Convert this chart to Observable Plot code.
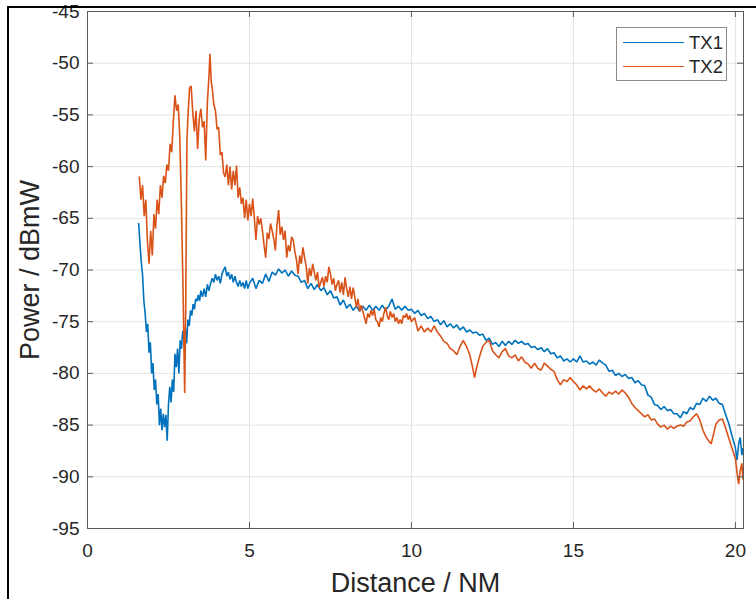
<!DOCTYPE html>
<html>
<head>
<meta charset="utf-8">
<script src="https://cdn.jsdelivr.net/npm/d3@7"></script>
<script src="https://cdn.jsdelivr.net/npm/@observablehq/plot@0.6"></script>
<style>
  html, body { margin: 0; padding: 0; background: #fff; }
  #wrap { position: relative; width: 756px; height: 599px; overflow: hidden; font-family: "Liberation Sans", Arial, sans-serif; }
  #frameTL { position: absolute; left: 7px; top: 6px; width: 760px; height: 600px; border-top: 2px solid #000; border-left: 2px solid #000; pointer-events: none; }
  #legend { position: absolute; left: 616px; top: 27px; width: 111px; height: 54px; background: #fff; border: 1px solid #8a8a8a; box-sizing: border-box; }
  .lg { position: absolute; left: 0; height: 20px; width: 111px; }
  .lg .sw { position: absolute; left: 6px; top: 9px; width: 61px; height: 0; border-top: 1.5px solid; }
  .lg .tx { position: absolute; left: 72px; top: 0; font-size: 18.5px; line-height: 20px; color: #262626; }
</style>
</head>
<body>
<div id="wrap">
  <div id="chart"></div>
  <div id="legend"></div>
  <div id="frameTL"></div>
</div>
<script>
// ---- data ----
const seriesNames = ["TX1", "TX2"];
const seriesColors = ["#0072BD", "#D95319"];

const tx1Distance = [1.58,1.62,1.66,1.70,1.74,1.78,1.82,1.86,1.90,1.94,1.98,2.02,2.06,2.10,2.14,2.18,2.22,2.26,2.30,2.34,2.38,2.42,2.46,2.50,2.54,2.58,2.62,2.66,2.70,2.74,2.78,2.82,2.86,2.90,2.94,2.98,3.02,3.06,3.10,3.14,3.18,3.22,3.26,3.30,3.34,3.38,3.42,3.46,3.50,3.55,3.60,3.65,3.70,3.75,3.80,3.85,3.90,3.95,4.00,4.05,4.10,4.15,4.20,4.25,4.30,4.35,4.40,4.45,4.50,4.55,4.60,4.65,4.70,4.75,4.80,4.85,4.90,4.95,
5.0,5.1,5.2,5.3,5.4,5.5,5.6,5.7,5.8,5.9,6.0,6.1,6.2,6.3,6.4,6.5,6.6,6.7,6.8,6.9,7.0,7.1,7.2,7.3,7.4,7.5,7.6,7.7,7.8,7.9,8.0,8.1,8.2,8.3,8.4,8.5,8.6,8.7,8.8,8.9,9.0,9.1,9.2,9.3,9.4,9.5,9.6,9.7,9.8,9.9,10.0,10.1,10.2,10.3,10.4,10.5,10.6,10.7,10.8,10.9,11.0,11.1,11.2,11.3,11.4,11.5,11.6,11.7,11.8,11.9,12.0,12.1,12.2,12.3,12.4,12.5,12.6,12.7,12.8,12.9,13.0,13.1,13.2,13.3,13.4,13.5,13.6,13.7,13.8,13.9,14.0,14.1,14.2,14.3,14.4,14.5,14.6,14.7,14.8,14.9,15.0,15.1,15.2,15.3,15.4,15.5,15.6,15.7,15.8,15.9,16.0,16.1,16.2,16.3,16.4,16.5,16.6,16.7,16.8,16.9,17.0,17.1,17.2,17.3,17.4,17.5,17.6,17.7,17.8,17.9,18.0,18.1,18.2,18.3,18.4,18.5,18.6,18.7,18.8,18.9,19.0,19.1,19.2,19.3,19.4,19.5,19.6,19.7,19.8,19.9,20.0,20.05,20.1,20.15,20.2,20.23];
const tx1Power = [-65.5,-67.5,-69.2,-70.5,-73.0,-74.2,-76.0,-75.2,-78.0,-77.0,-80.0,-79.0,-81.6,-80.6,-83.0,-82.0,-85.0,-83.4,-85.5,-83.9,-85.2,-84.0,-86.5,-83.0,-81.3,-82.8,-80.6,-81.8,-78.1,-79.4,-77.6,-80.0,-76.8,-77.6,-75.9,-76.6,-75.6,-77.1,-74.8,-75.4,-73.9,-74.4,-73.3,-73.8,-72.8,-73.0,-72.4,-73.0,-72.0,-72.6,-71.8,-72.6,-71.4,-72.0,-71.3,-70.8,-71.2,-70.4,-71.0,-70.6,-71.3,-70.4,-70.0,-69.7,-70.6,-70.2,-70.9,-70.4,-71.2,-70.6,-71.2,-71.6,-71.0,-71.6,-71.2,-71.8,-71.0,-71.8,
-71.3,-70.8,-71.8,-71.0,-71.3,-70.4,-71.1,-70.2,-70.5,-69.9,-70.3,-70.0,-70.6,-70.1,-70.5,-70.6,-71.2,-71.0,-71.8,-71.3,-71.9,-71.4,-72.0,-71.7,-72.4,-72.0,-72.7,-72.6,-73.4,-72.9,-73.7,-73.3,-73.9,-73.5,-74.0,-73.5,-73.9,-73.4,-73.9,-73.5,-73.9,-73.4,-73.9,-73.5,-72.8,-73.8,-73.5,-73.9,-73.5,-73.9,-73.8,-74.2,-73.9,-74.4,-74.2,-74.7,-74.5,-75.0,-74.8,-75.3,-74.9,-75.5,-75.2,-75.6,-75.3,-75.8,-75.5,-76.0,-75.8,-76.1,-76.0,-76.3,-76.2,-76.8,-76.6,-77.2,-77.0,-77.4,-76.9,-77.3,-76.9,-77.2,-76.8,-77.1,-76.9,-77.2,-77.1,-77.5,-77.4,-77.7,-77.5,-77.9,-77.6,-78.1,-78.0,-78.5,-78.3,-78.8,-78.6,-78.9,-78.6,-78.9,-78.3,-78.9,-78.8,-79.1,-78.9,-79.2,-78.7,-79.0,-79.2,-79.8,-79.7,-80.2,-80.0,-80.3,-80.1,-80.5,-80.4,-80.9,-80.7,-81.1,-81.2,-82.1,-82.3,-83.0,-83.1,-83.5,-83.2,-83.6,-83.5,-83.9,-83.9,-84.3,-83.7,-83.9,-83.3,-83.5,-82.9,-83.0,-82.4,-82.7,-82.2,-82.6,-82.4,-82.9,-83.0,-84.0,-84.9,-86.1,-87.2,-88.4,-86.8,-86.2,-87.9,-87.3];

const tx2Distance = [1.60,1.65,1.70,1.75,1.80,1.85,1.90,1.95,2.00,2.05,2.10,2.15,2.20,2.25,2.30,2.35,2.40,2.45,2.50,2.55,2.60,2.65,2.70,2.75,2.80,2.85,2.90,2.95,3.00,3.03,3.07,3.10,3.15,3.20,3.25,3.30,3.35,3.40,3.45,3.50,3.55,3.60,3.65,3.70,3.75,3.78,3.82,3.85,3.90,3.95,4.00,4.05,4.10,4.15,4.20,4.25,4.30,4.35,4.40,4.45,4.50,4.55,4.60,4.65,4.70,4.75,4.80,4.85,4.90,4.95,5.00,5.05,5.10,5.15,5.20,5.25,5.30,5.35,5.40,5.45,5.50,5.55,5.60,5.65,5.70,5.75,5.80,5.85,5.90,5.95,6.00,6.05,6.10,6.15,6.20,6.25,6.30,6.35,6.40,6.45,6.50,6.55,6.60,6.65,6.70,6.75,6.80,6.85,6.90,6.95,7.00,7.05,7.10,7.15,7.20,7.25,7.30,7.35,7.40,7.45,7.50,7.55,7.60,7.65,7.70,7.75,7.80,7.85,7.90,7.95,8.00,8.05,8.10,8.15,8.20,8.25,8.30,8.35,8.40,8.45,8.50,8.55,8.60,8.65,8.70,8.75,8.80,8.85,8.90,8.95,9.00,9.05,9.10,9.15,9.20,9.25,9.30,9.35,9.40,9.45,9.50,9.55,9.60,9.65,9.70,9.75,9.80,9.85,9.90,9.95,10.00,
10.1,10.2,10.3,10.4,10.5,10.6,10.7,10.8,10.9,11.0,11.1,11.2,11.3,11.4,11.5,11.6,11.7,11.8,11.9,11.95,12.0,12.1,12.2,12.3,12.4,12.5,12.6,12.7,12.8,12.9,13.0,13.1,13.2,13.3,13.4,13.5,13.6,13.7,13.8,13.9,14.0,14.1,14.2,14.3,14.4,14.5,14.6,14.7,14.8,14.9,15.0,15.1,15.2,15.3,15.4,15.5,15.6,15.7,15.8,15.9,16.0,16.1,16.2,16.3,16.4,16.5,16.6,16.7,16.8,16.9,17.0,17.1,17.2,17.3,17.4,17.5,17.6,17.7,17.8,17.9,18.0,18.1,18.2,18.3,18.4,18.5,18.6,18.7,18.8,18.9,19.0,19.1,19.2,19.25,19.3,19.4,19.5,19.6,19.7,19.8,19.9,20.0,20.05,20.1,20.15,20.2,20.23];
const tx2Power = [-61.0,-63.2,-61.8,-64.8,-63.2,-67.2,-69.4,-66.2,-68.6,-64.6,-66.0,-63.2,-64.6,-61.8,-63.0,-60.9,-61.6,-59.8,-60.4,-57.8,-58.6,-55.6,-53.1,-54.6,-54.0,-57.2,-63.9,-72.0,-81.9,-74.0,-57.5,-55.2,-52.4,-52.2,-54.8,-56.6,-54.6,-58.3,-55.4,-54.4,-56.2,-55.6,-59.4,-53.8,-51.2,-49.1,-51.8,-52.4,-54.0,-54.6,-56.4,-56.2,-58.9,-58.6,-60.6,-61.0,-59.8,-61.8,-60.0,-62.2,-60.4,-61.8,-59.9,-63.0,-62.0,-63.6,-63.0,-65.0,-63.2,-65.2,-63.6,-64.8,-63.1,-65.0,-67.1,-64.8,-65.6,-65.0,-66.2,-67.6,-68.8,-66.4,-67.0,-65.5,-66.2,-67.0,-68.1,-65.6,-64.2,-66.6,-65.8,-67.1,-66.2,-68.8,-67.6,-68.2,-66.8,-67.1,-68.2,-69.0,-70.4,-68.6,-69.4,-67.8,-68.8,-69.6,-71.3,-69.8,-70.6,-69.4,-70.2,-71.0,-70.2,-71.7,-71.2,-70.7,-71.6,-70.6,-71.2,-69.7,-70.4,-71.4,-70.8,-72.0,-71.4,-71.0,-72.2,-71.2,-72.4,-70.7,-71.8,-72.6,-71.6,-72.8,-71.7,-72.6,-73.6,-72.8,-74.0,-73.4,-74.0,-74.6,-75.2,-74.2,-74.6,-73.9,-74.4,-73.8,-74.8,-75.0,-75.5,-74.6,-75.0,-74.2,-73.6,-74.4,-74.8,-74.0,-74.6,-74.2,-75.0,-74.6,-75.2,-74.8,-75.2,-74.4,-74.6,-74.2,-74.8,-74.4,-75.0,
-74.6,-75.9,-75.4,-76.0,-75.6,-76.0,-75.4,-76.0,-76.4,-76.9,-77.1,-77.6,-77.8,-78.2,-77.4,-76.8,-77.4,-78.2,-79.6,-80.4,-79.6,-78.4,-77.4,-77.0,-76.8,-77.8,-78.2,-78.5,-77.9,-77.6,-78.3,-78.5,-78.2,-78.8,-78.4,-78.9,-79.1,-79.5,-79.0,-79.5,-79.7,-79.0,-79.3,-79.6,-79.8,-80.6,-81.1,-80.6,-80.8,-80.4,-80.8,-81.1,-81.6,-81.2,-81.5,-81.2,-81.6,-81.8,-81.5,-81.9,-82.2,-81.8,-82.0,-81.7,-82.0,-81.6,-81.9,-82.3,-82.9,-83.3,-83.6,-83.9,-84.2,-84.0,-84.5,-84.4,-84.9,-85.2,-85.0,-85.4,-85.1,-85.3,-85.1,-85.0,-85.1,-84.7,-84.6,-84.2,-83.9,-84.5,-85.5,-86.2,-86.6,-86.8,-86.2,-84.9,-84.5,-84.4,-85.3,-86.3,-87.3,-88.2,-89.6,-90.7,-89.4,-88.7,-90.2];

const xTicks = [0, 5, 10, 15, 20];
const yTicks = [-95, -90, -85, -80, -75, -70, -65, -60, -55, -50, -45];
const xDomain = [0, 20.25];
const yDomain = [-95, -45];
const xTitle = "Distance / NM";
const yTitle = "Power / dBmW";

// ---- build table ----
const rows = [];
tx1Distance.forEach((d, i) => rows.push({series: seriesNames[0], distance: d, power: tx1Power[i]}));
tx2Distance.forEach((d, i) => rows.push({series: seriesNames[1], distance: d, power: tx2Power[i]}));

const W = 756, H = 599, mL = 87, mR = 13, mT = 11, mB = 71;
const innerH = H - mT - mB, innerW = W - mL - mR;
const axisColor = "#5a5a5a";
const textColor = "#262626";
const tickLen = 6;
const fmt = d => String(d);

const chart = Plot.plot({
  width: W, height: H,
  marginLeft: mL, marginRight: mR, marginTop: mT, marginBottom: mB,
  style: {fontFamily: '"Liberation Sans", Arial, sans-serif', color: textColor, background: "#fff"},
  x: {domain: xDomain, ticks: xTicks},
  y: {domain: yDomain, ticks: yTicks},
  color: {domain: seriesNames, range: seriesColors},
  marks: [
    Plot.gridX(xTicks, {stroke: "#e3e3e3", strokeOpacity: 1, strokeWidth: 1}),
    Plot.gridY(yTicks, {stroke: "#e3e3e3", strokeOpacity: 1, strokeWidth: 1}),
    Plot.line(rows, {x: "distance", y: "power", z: "series", stroke: "series", strokeWidth: 1.6, strokeLinejoin: "miter"}),
    Plot.frame({stroke: axisColor, strokeWidth: 1}),
    // inward ticks, MATLAB style (bottom, top, left, right)
    Plot.tickX(xTicks, {x: d => d, stroke: axisColor, insetTop: innerH - tickLen}),
    Plot.tickX(xTicks, {x: d => d, stroke: axisColor, insetBottom: innerH - tickLen}),
    Plot.tickY(yTicks, {y: d => d, stroke: axisColor, insetRight: innerW - tickLen}),
    Plot.tickY(yTicks, {y: d => d, stroke: axisColor, insetLeft: innerW - tickLen}),
    Plot.axisX(xTicks, {tickSize: 0, tickPadding: 15, fontSize: 19, label: null, color: textColor, tickFormat: fmt}),
    Plot.axisY(yTicks, {tickSize: 0, tickPadding: 8, fontSize: 19, label: null, color: textColor, tickFormat: fmt}),
    Plot.text([xTitle], {frameAnchor: "bottom", dy: 55, lineAnchor: "middle", textAnchor: "middle", fontSize: 27, fill: textColor}),
    Plot.text([yTitle], {frameAnchor: "left", dx: -57, rotate: -90, textAnchor: "middle", lineAnchor: "middle", fontSize: 27, fill: textColor})
  ]
});
document.getElementById("chart").appendChild(chart);

// legend
const lg = document.getElementById("legend");
seriesNames.forEach((name, i) => {
  const row = document.createElement("div");
  row.className = "lg";
  row.style.top = (5 + i * 24) + "px";
  row.innerHTML = `<div class="sw" style="border-top-color:${seriesColors[i]}"></div><div class="tx">${name}</div>`;
  lg.appendChild(row);
});
</script>
</body>
</html>
